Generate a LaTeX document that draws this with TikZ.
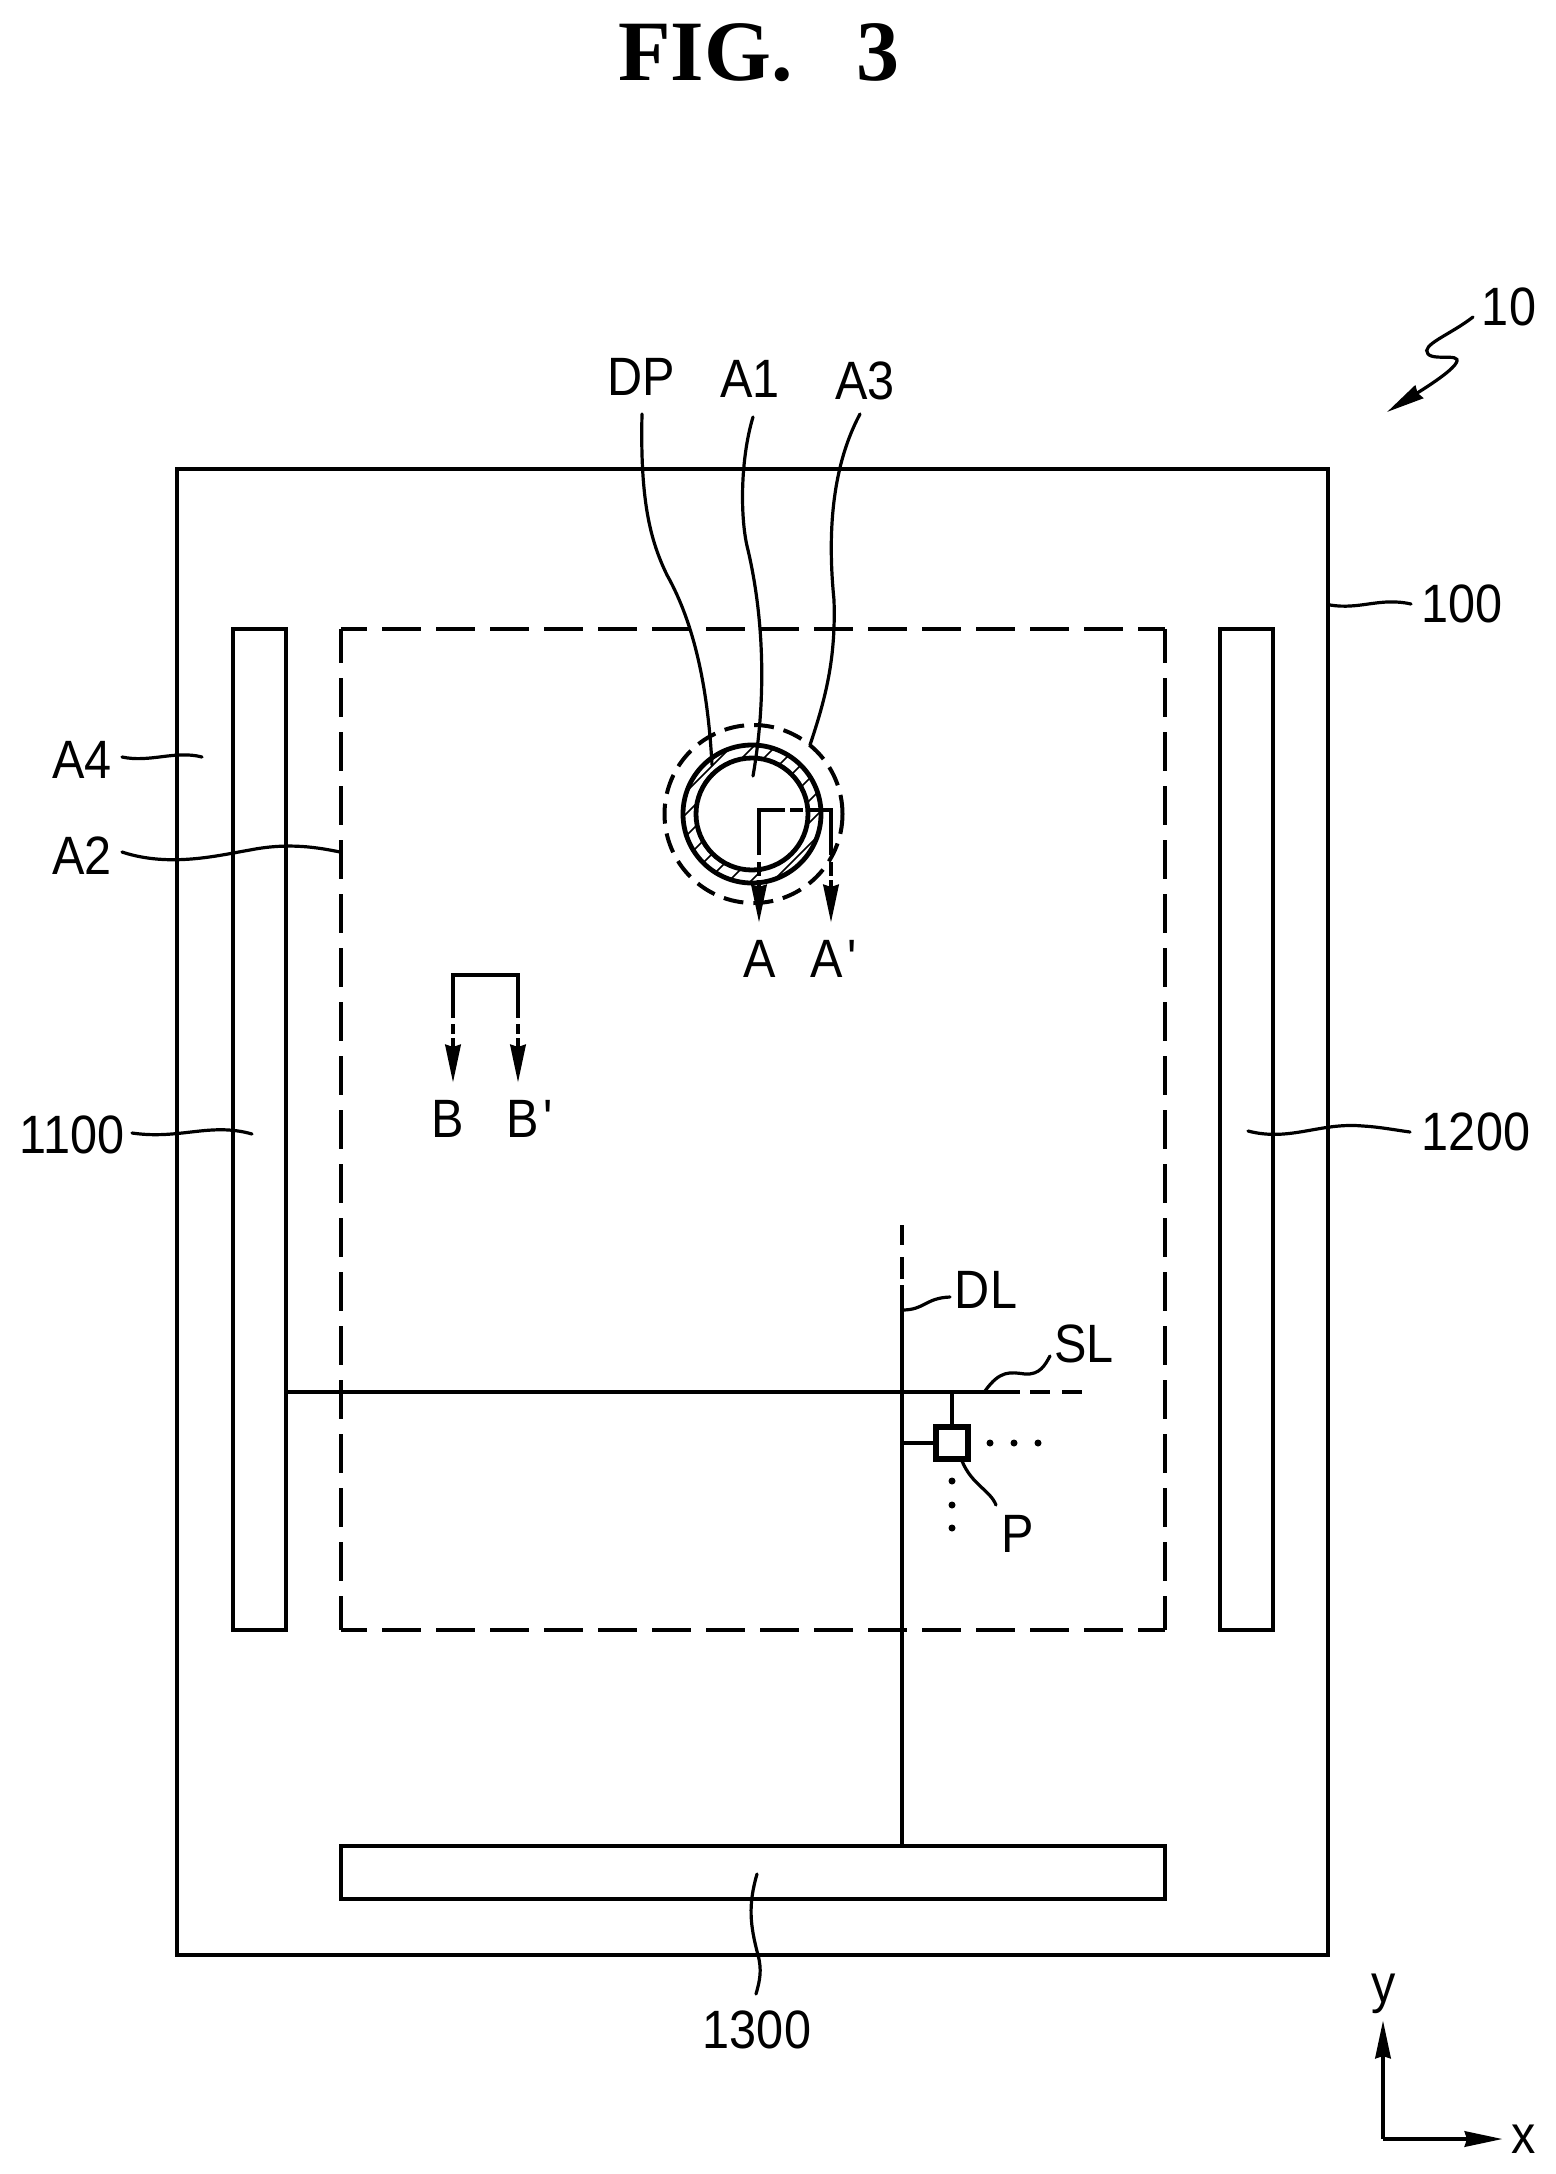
\documentclass[tikz,border=0pt]{standalone}
\usepackage{fontspec}
\setmainfont[FakeStretch=0.9]{Liberation Sans}
\newfontfamily\figfont{Liberation Serif}[BoldFont={Liberation Serif Bold}]
\usetikzlibrary{arrows.meta}
\tikzset{
	main node/.style={draw,line width=2.4pt,inner sep=0pt,outer sep=0pt},
	lbl/.style={inner sep=0pt,anchor=base,font=\fontsize{27}{30}\selectfont},
	lead/.style={line width=1.6pt,line cap=round},
	cut/.style={line width=2.4pt},
	dashy/.style={line width=2.4pt,dash pattern=on 19.5pt off 7.5pt},
	tip/.style={-{Stealth[length=19pt,width=7.5pt,inset=1pt]}},
}

\begin{document}
\begin{tikzpicture}[x=0.5pt,y=-0.5pt]
	\useasboundingbox (0,0) rectangle (1555,2174);
	\node [inner sep=0pt,anchor=base west,font=\figfont\bfseries\fontsize{43}{48}\selectfont] (fig) at (618,80) {FIG.\hspace{32pt}3};

	% outer panel, bars and the dashed area
	\node [main node,minimum width=575.5pt,minimum height=743pt] (100) at (752.5,1212) {};
	\node [main node,minimum width=26.5pt,minimum height=500.5pt] (1100) at (259.5,1129.5) {};
	\node [main node,minimum width=26.5pt,minimum height=500.5pt] (1200) at (1246.5,1129.5) {};
	\node [main node,minimum width=412pt,minimum height=26.5pt] (1300) at (753,1872.5) {};
	\node [inner sep=0pt,outer sep=0pt,minimum width=412pt,minimum height=500.5pt] (a2) at (753,1129.5) {};
	\draw [dashy,dash phase=2.5pt] (a2.north west) -- (a2.south west);
	\draw [dashy,dash phase=2.5pt] (a2.north east) -- (a2.south east);
	\draw [dashy,dash phase=6.5pt] (a2.north west) -- (a2.north east);
	\draw [dashy,dash phase=6.5pt] (a2.south west) -- (a2.south east);

	% the hole
	\coordinate (c) at (752,814);
	\begin{scope}[even odd rule]
		\clip (c) circle (69) (c) circle (56);
		\foreach \d in {-132,-110,...,132}
			\draw [line width=0.8pt] (752+\d-100,914) -- (752+\d+100,714);
	\end{scope}
	\draw [cut] (c) circle (69);
	\draw [cut] (c) circle (56);
	\draw [line width=2pt,dash pattern=on 10pt off 5pt] (753.5,814) circle (89);

	% cut A-A'
	\coordinate (a0) at (759,855);
	\coordinate (a1) at (759,810);
	\coordinate (a2r) at (831,810);
	\coordinate (a3) at (831,855);
	\draw [cut] (a0) -- (a1) -- (785,810);
	\draw [cut] (790,810) -- (803,810);
	\draw [cut] (808,810) -- (a2r) -- (a3);
	\draw [cut] (759,862) -- (759,876);
	\draw [cut] (831,862) -- (831,876);
	\draw [cut,tip] (759,880) -- (759,923);
	\draw [cut,tip] (831,880) -- (831,923);

	% cut B-B'
	\coordinate (b0) at (453,1018);
	\coordinate (b1) at (453,975);
	\coordinate (b2) at (518,975);
	\coordinate (b3) at (518,1018);
	\draw [cut] (b0) -- (b1) -- (b2) -- (b3);
	\draw [cut] (453,1024) -- (453,1034);
	\draw [cut] (518,1024) -- (518,1034);
	\draw [cut,tip] (453,1038) -- (453,1083);
	\draw [cut,tip] (518,1038) -- (518,1083);

	% signal lines and pixel
	\node [main node,line width=2.6pt,minimum size=16pt] (p) at (952,1443) {};
	\coordinate (dl0) at (902,1285);
	\coordinate (dl1) at (902,1846);
	\coordinate (sl0) at (286,1392);
	\coordinate (sl1) at (1020,1392);
	\draw [cut] (dl0) -- (dl1);
	\draw [cut] (902,1225) -- (902,1245);
	\draw [cut] (902,1257) -- (902,1279);
	\draw [cut] (sl0) -- (sl1);
	\draw [cut] (1030,1392) -- (1050,1392);
	\draw [cut] (1062,1392) -- (1082,1392);
	\draw [cut] (p.north) -- (952,1392);
	\draw [cut] (p.west) -- (902,1443);
	\foreach \xx in {990,1014,1038}
		\fill (\xx,1443) circle (3.5);
	\foreach \yy in {1481,1505,1528}
		\fill (952,\yy) circle (3.5);

	% axes
	\coordinate (o) at (1383,2139);
	\coordinate (ax) at (1503,2139);
	\coordinate (ay) at (1383,2020);
	\draw [cut,tip] (o) -- (ax);
	\draw [cut,tip] (o) -- (ay);
	\node [lbl] (x) at (1524,2153) {x};
	\node [lbl] (y) at (1384,2002) {y};

	% labels
	\node [lbl] (ldp) at (641,395) {DP};
	\node [lbl] (la1) at (750,397) {A1};
	\node [lbl] (la3) at (865,399) {A3};
	\node [lbl] (la) at (760,977) {A};
	\node [lbl] (laa) at (834,977) {A\hspace{2pt}\textquotesingle};
	\node [lbl] (lb) at (448,1137) {B};
	\node [lbl] (lbb) at (530,1137) {B\hspace{2pt}\textquotesingle};
	\node [lbl] (l10) at (1509,325) {10};
	\node [lbl] (l100) at (1462,622) {100};
	\node [lbl] (la4) at (82,778) {A4};
	\node [lbl] (la2) at (82,874) {A2};
	\node [lbl] (l1100) at (72,1153) {1100};
	\node [lbl] (l1200) at (1476,1150) {1200};
	\node [lbl] (l1300) at (757,2048) {1300};
	\node [lbl] (ldl) at (986,1308) {DL};
	\node [lbl] (lsl) at (1084,1362) {SL};
	\node [lbl] (lp) at (1018,1552) {P};

	% leaders
	\draw [lead] (642,414) .. controls (640,500) and (650,540) .. (667,575) .. controls (695,625) and (708,690) .. (712,765);
	\draw [lead] (753,417) .. controls (740,460) and (740,520) .. (748,550) .. controls (762,610) and (768,690) .. (753,776);
	\draw [lead] (860,414) .. controls (830,470) and (828,540) .. (834,600) .. controls (836,660) and (825,700) .. (810,745);
	\draw [lead,tip] (1473,317) .. controls (1450,335) and (1420,345) .. (1428,354) .. controls (1435,362) and (1470,350) .. (1452,368) .. controls (1445,375) and (1430,385) .. (1387,412);
	\draw [lead] (1330,605) .. controls (1360,610) and (1380,597) .. (1411,604);
	\draw [lead] (122,757) .. controls (150,763) and (175,750) .. (202,757);
	\draw [lead] (122,852) .. controls (170,868) and (220,855) .. (250,850) .. controls (290,842) and (320,848) .. (340,852);
	\draw [lead] (132,1133) .. controls (180,1140) and (210,1122) .. (252,1134);
	\draw [lead] (1248,1131) .. controls (1290,1142) and (1320,1122) .. (1363,1126) .. controls (1380,1127) and (1395,1130) .. (1410,1132);
	\draw [lead] (757,1874) .. controls (748,1905) and (750,1925) .. (758,1955) .. controls (762,1970) and (760,1980) .. (756,1994);
	\draw [lead] (902,1310) .. controls (925,1310) and (925,1298) .. (950,1297);
	\draw [lead] (985,1391) .. controls (1000,1370) and (1010,1372) .. (1025,1374) .. controls (1040,1375) and (1045,1365) .. (1050,1356);
	\draw [lead] (962,1461) .. controls (972,1485) and (990,1490) .. (996,1505);
\end{tikzpicture}
\end{document}
